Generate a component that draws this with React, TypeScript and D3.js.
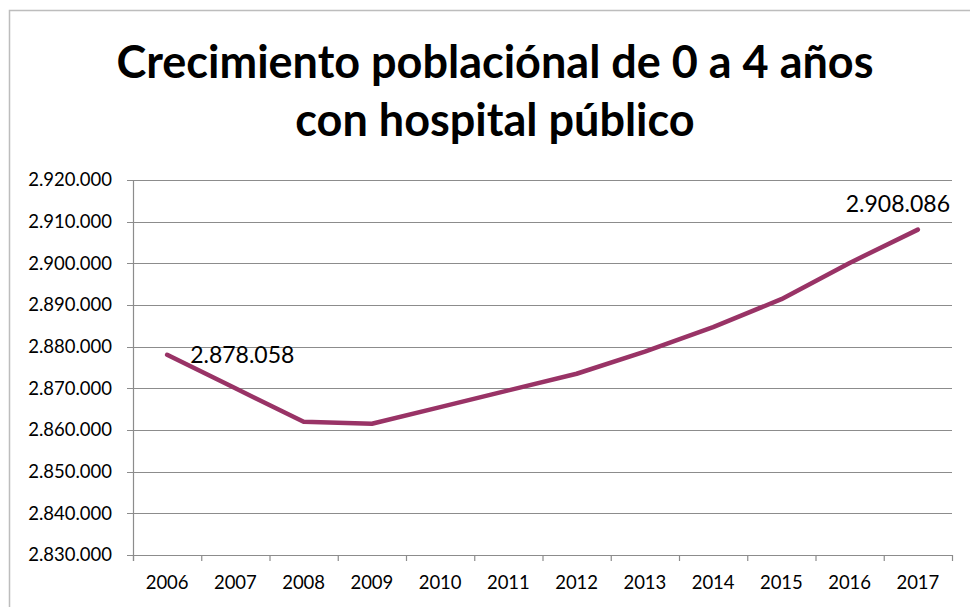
import React from "react";
import * as d3 from "d3";

const years: string[] = ["2006", "2007", "2008", "2009", "2010", "2011", "2012", "2013", "2014", "2015", "2016", "2017"];
const values: number[] = [2878058, 2870000, 2862000, 2861500, 2865500, 2869500, 2873500, 2878800, 2884700, 2891400, 2900100, 2908086];
const yTicks: number[] = [2830000, 2840000, 2850000, 2860000, 2870000, 2880000, 2890000, 2900000, 2910000, 2920000];
const titleLines: string[] = ["Crecimiento poblaciónal de 0 a 4 años", "con hospital público"];
const labeledIdx: number[] = [0, 11];

const W = 970;
const H = 607;
const left = 133;
const right = 952;
const top = 180;
const bottom = 555;
const FONT = "Lato, 'Open Sans', sans-serif";

const locale = d3.formatLocale({ decimal: ",", thousands: ".", grouping: [3], currency: ["", ""] });
const fmt = locale.format(",d");

export default function App() {
  const x = d3.scaleBand<string>().domain(years).range([left, right]).padding(0);
  const y = d3.scaleLinear().domain([2830000, 2920000]).range([bottom, top]);
  const line = d3
    .line<number>()
    .x((_, i) => (x(years[i]) as number) + x.bandwidth() / 2)
    .y((d) => y(d));
  const boundaries = years.map((yr) => x(yr) as number).concat([right]);
  const grid = "#8c8c8c";

  return (
    <svg
      width={W}
      height={H}
      style={{ position: "fixed", left: 0, top: 0, background: "#fff" }}
      fontFamily={FONT}
    >
      <rect x={0} y={0} width={W} height={H} fill="#fff" />
      <rect x={9.5} y={10.5} width={W + 20} height={H + 20} fill="none" stroke="#bdbdbd" strokeWidth={1.5} />
      {titleLines.map((t, i) => (
        <text
          key={i}
          x={495}
          y={78 + i * 58}
          textAnchor="middle"
          fontWeight={700}
          fontSize={45}
          fill="#000"
        >
          {t}
        </text>
      ))}
      {yTicks.map((v) => (
        <g key={v}>
          <line x1={127} x2={right} y1={Math.round(y(v)) + 0.5} y2={Math.round(y(v)) + 0.5} stroke={grid} strokeWidth={1.2} />
          <text x={112} y={y(v)} dy="0.35em" textAnchor="end" fontSize={18.5} fill="#000">
            {fmt(v)}
          </text>
        </g>
      ))}
      <line x1={left + 0.5} x2={left + 0.5} y1={top} y2={bottom + 6} stroke={grid} strokeWidth={1.2} />
      {boundaries.map((b, i) => (
        <line key={i} x1={b + 0.5} x2={b + 0.5} y1={bottom} y2={bottom + 6} stroke={grid} strokeWidth={1.2} />
      ))}
      {years.map((yr) => (
        <text key={yr} x={(x(yr) as number) + x.bandwidth() / 2} y={589} textAnchor="middle" fontSize={18.5} fill="#000">
          {yr}
        </text>
      ))}
      <path d={line(values) || ""} fill="none" stroke="#993366" strokeWidth={4.5} strokeLinejoin="round" strokeLinecap="round" />
      {labeledIdx.map((i) => {
        const px = (x(years[i]) as number) + x.bandwidth() / 2;
        const py = y(values[i]);
        const first = i === 0;
        return (
          <text
            key={i}
            x={first ? px + 23 : px - 20}
            y={first ? py : py - 18}
            dy={first ? "0.35em" : 0}
            textAnchor={first ? "start" : "middle"}
            fontSize={23}
            fill="#000"
          >
            {fmt(values[i])}
          </text>
        );
      })}
    </svg>
  );
}
